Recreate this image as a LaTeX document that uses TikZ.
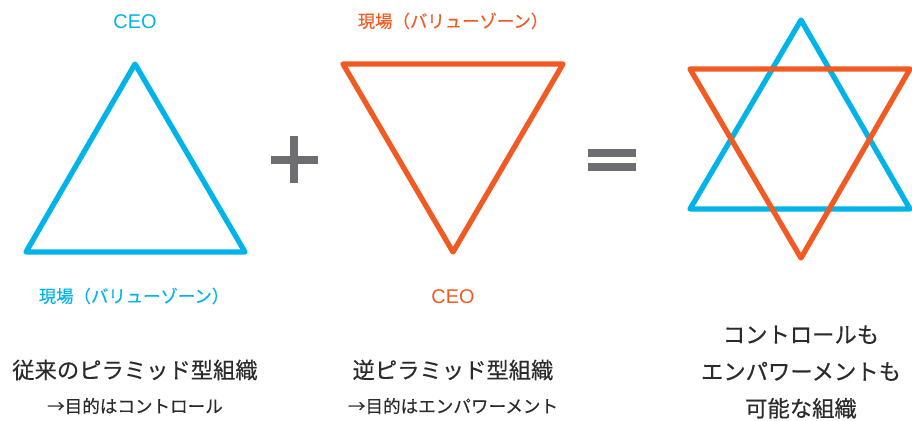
\documentclass[tikz,border=0pt]{standalone}
\usepackage{fontspec}
\setmainfont{Liberation Sans}
\newfontfamily\jpfont[FakeBold=0.25]{Noto Sans CJK JP}
\newfontfamily\jpheavy[FakeBold=0.4]{Noto Sans CJK JP}
\usepackage{tikz}

\definecolor{ceoblue}{HTML}{00B4EA}
\definecolor{zoneorange}{HTML}{F15A22}
\definecolor{signgray}{HTML}{6D6E71}
\definecolor{textdark}{HTML}{2B2B2B}

\begin{document}
\begin{tikzpicture}[x=0.02cm, y=-0.02cm,
    tri/.style={line width=3pt, line join=round},
    sign/.style={fill=signgray, draw=none},
    ceolabel/.style={font=\fontsize{11.3}{13}\selectfont},
    zonelabel/.style={font=\jpfont\fontsize{9.9}{12}\selectfont},
    title/.style={text=textdark, font=\jpheavy\fontsize{12.7}{21}\selectfont, align=center},
    subtitle/.style={text=textdark, font=\jpfont\fontsize{10}{12}\selectfont}]
    \useasboundingbox (0,0) rectangle (912,420);

    % left: pyramid
    \draw[tri, ceoblue] (135,64) -- (26,252) -- (245,252) -- cycle;
    \node[ceolabel, text=ceoblue] (ceoTop) at (135,22) {CEO};
    \node[zonelabel, text=ceoblue] (zoneBottom) at (134,296) {現場（バリューゾーン）};
    \node[title] (pyrTitle) at (135,370) {従来のピラミッド型組織};
    \node[subtitle] (pyrSub) at (135,406) {→目的はコントロール};

    % plus
    \fill[sign] (271,156) rectangle (318,164);
    \fill[sign] (290,136) rectangle (298,183);

    % middle: inverted pyramid
    \draw[tri, zoneorange] (343,64) -- (563,64) -- (453,252) -- cycle;
    \node[zonelabel, text=zoneorange] (zoneTop) at (453,21) {現場（バリューゾーン）};
    \node[ceolabel, text=zoneorange] (ceoBottom) at (453,297) {CEO};
    \node[title] (invTitle) at (453,370) {逆ピラミッド型組織};
    \node[subtitle] (invSub) at (453,406) {→目的はエンパワーメント};

    % equals
    \fill[sign] (588,149) rectangle (636,157);
    \fill[sign] (588,163) rectangle (636,171);

    % right: both combined
    \draw[tri, ceoblue] (801,20) -- (690,209) -- (910,209) -- cycle;
    \draw[tri, zoneorange] (690,69) -- (910,69) -- (801,258) -- cycle;
    \node[title] (bothTitle) at (801,372)
        {コントロールも\\エンパワーメントも\\可能な組織};
\end{tikzpicture}
\end{document}
